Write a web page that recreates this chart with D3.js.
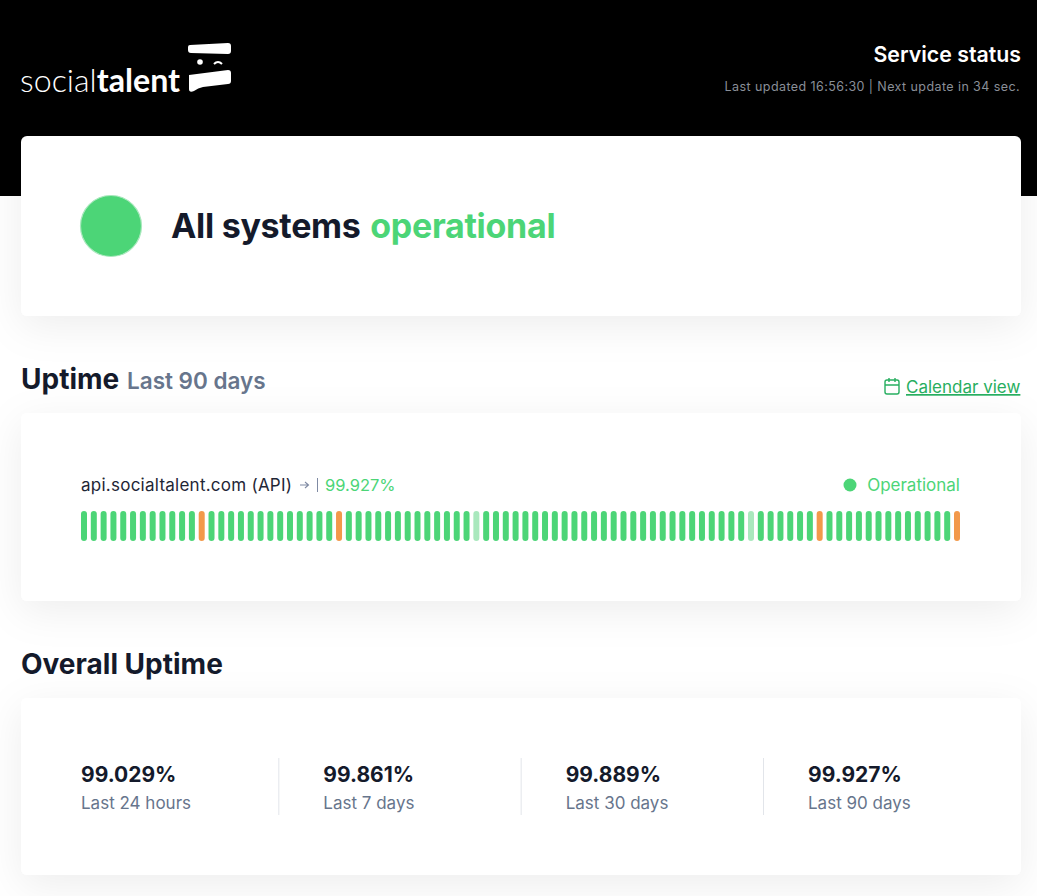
<!DOCTYPE html>
<html><head><meta charset="utf-8">
<script src="https://cdnjs.cloudflare.com/ajax/libs/d3/7.8.5/d3.min.js"></script>
<style>
html,body{margin:0;padding:0;background:#fff;overflow:hidden}
svg{display:block}
text{font-family:Inter,sans-serif}
</style></head><body>
<div id="chart"></div>
<script>
const dailyUptime = [
100,100,100,100,100,100,100,100,100,100,100,100,98.5,100,100,
100,100,100,100,100,100,100,100,100,100,100,98.5,100,100,100,
100,100,100,100,100,100,100,100,100,100,99.8,100,100,100,100,
100,100,100,100,100,100,100,100,100,100,100,100,100,100,100,
100,100,100,100,100,100,100,100,99.8,100,100,100,100,100,100,
98.5,100,100,100,100,100,100,100,100,100,100,100,100,100,98.5];
const periods = ["Last 24 hours","Last 7 days","Last 30 days","Last 90 days"];
const overall = ["99.029%","99.861%","99.889%","99.927%"];
const thresholds = [99,99.9];
const statusColors = ["#f2994a","#a9e8bd","#4cd577"];

const W=1037,H=896;
const svg=d3.select("#chart").append("svg").attr("width",W).attr("height",H);
const defs=svg.append("defs");
const f=defs.append("filter").attr("id","sh").attr("x","-10%").attr("y","-30%").attr("width","120%").attr("height","170%");
f.append("feDropShadow").attr("dx",0).attr("dy",10).attr("stdDeviation",20).attr("flood-color","#000").attr("flood-opacity",0.07);

svg.append("rect").attr("width",W).attr("height",196).attr("fill","#000");

const card=(y,h)=>svg.append("rect").attr("x",21).attr("y",y).attr("width",1000).attr("height",h).attr("rx",6).attr("fill","#fff").attr("filter","url(#sh)");
card(136,180);card(413,188);card(698,177);

const T=(x,y,s,size,fill,weight,anchor)=>svg.append("text").attr("x",x).attr("y",y).text(s).attr("font-size",size).attr("fill",fill).attr("font-weight",weight||400).attr("text-anchor",anchor||"start");

// logo
const logo=svg.append("text").attr("x",20).attr("y",92).attr("font-size",32.2).attr("fill","#fff").style("font-family","Lato,sans-serif");
logo.append("tspan").text("social").attr("font-weight",300);
logo.append("tspan").text("talent").attr("font-weight",700);
const lg=svg.append("g").attr("fill","#fff");
lg.append("path").attr("d","M188 47 Q188 45 190 45 L228 43 Q231 43 231 46 L231 51 Q231 54 228 54 L191 53 Q188 53 188 50Z");
lg.append("circle").attr("cx",200).attr("cy",62).attr("r",2.8);
lg.append("path").attr("d","M214 64 Q218 60 222 64").attr("fill","none").attr("stroke","#fff").attr("stroke-width",2);
lg.append("path").attr("d","M189 75 L228 70 Q231 70 231 73 L231 81 Q231 84 228 84 L203 87 Q198 88 194 91 Q189 93 189 89Z");

T(1021,62,"Service status",21.3,"#fff",600,"end");
T(1020,91,"Last updated 16:56:30 | Next update in 34 sec.",12.5,"#8a8f98",400,"end").attr("letter-spacing",0.42);

// hero
svg.append("circle").attr("cx",111).attr("cy",226).attr("r",30.5).attr("fill","#4cd577").attr("stroke","#a9e8bd").attr("stroke-width",1.2);
const hero=svg.append("text").attr("x",171).attr("y",238).attr("font-size",34).attr("font-weight",700).attr("fill","#141a2b").attr("letter-spacing",-0.3);
hero.append("tspan").text("All systems ");
hero.append("tspan").text("operational").attr("fill","#4cd577").attr("dx",2);

// uptime heading
T(21,389,"Uptime",28,"#141a2b",700);
T(127,389,"Last 90 days",22.5,"#67758c",600);
const cal=svg.append("g").attr("fill","none").attr("stroke","#27ae60").attr("stroke-width",1.4);
cal.append("rect").attr("x",885).attr("y",380).attr("width",14).attr("height",14).attr("rx",2);
cal.append("path").attr("d","M885 385 H899 M889 378 V382 M895 378 V382");
T(906,393,"Calendar view",17,"#27ae60",400).attr("text-decoration","underline");

// service row
T(81,491,"api.socialtalent.com (API)",17,"#1f2636",400).attr("letter-spacing",0.25);
svg.append("path").attr("d","M300 485 H308 M305 482 L308.5 485 L305 488").attr("fill","none").attr("stroke","#7f8aa3").attr("stroke-width",1.1);
svg.append("line").attr("x1",317.5).attr("x2",317.5).attr("y1",478).attr("y2",492).attr("stroke","#7f8aa3");
T(325,491,"99.927%",16.5,"#4cd577",400);
svg.append("circle").attr("cx",850).attr("cy",485).attr("r",6.5).attr("fill","#4cd577");
T(960,491,"Operational",17,"#4cd577",400,"end");

// bars
const x=d3.scaleBand().domain(d3.range(dailyUptime.length)).range([81,960]).paddingInner(0.388).paddingOuter(0);
const color=d3.scaleThreshold().domain(thresholds).range(statusColors);
svg.append("g").selectAll("rect").data(dailyUptime).join("rect")
 .attr("x",(d,i)=>x(i)).attr("y",511).attr("width",x.bandwidth()).attr("height",30)
 .attr("rx",3).attr("fill",d=>color(d));

// overall
T(21,674,"Overall Uptime",28,"#141a2b",700);
const sx=d3.scalePoint().domain(periods).range([81,808]);
periods.forEach((p,i)=>{
  T(sx(p),782,overall[i],21,"#141a2b",700);
  T(sx(p),809,p,17,"#67758c",400);
  if(i>0) svg.append("line").attr("x1",sx(p)-44.5).attr("x2",sx(p)-44.5).attr("y1",758).attr("y2",815).attr("stroke","#e2e5ea");
});
</script>
</body></html>
